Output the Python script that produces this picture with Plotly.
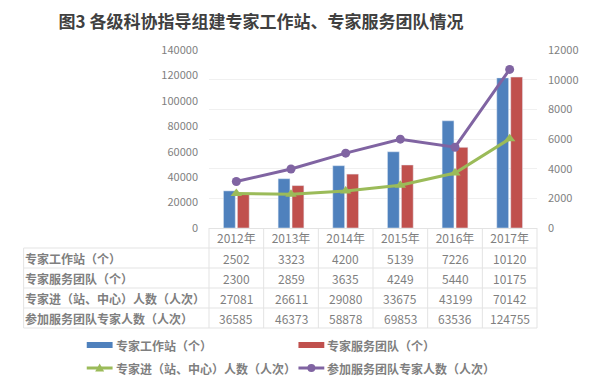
import plotly.graph_objects as go

years = ["2012年", "2013年", "2014年", "2015年", "2016年", "2017年"]
stations = [2502, 3323, 4200, 5139, 7226, 10120]
teams = [2300, 2859, 3635, 4249, 5440, 10175]
experts_in = [27081, 26611, 29080, 33675, 43199, 70142]
team_experts = [36585, 46373, 58878, 69853, 63536, 124755]

names = ["专家工作站（个）", "专家服务团队（个）",
         "专家进（站、中心）人数（人次）", "参加服务团队专家人数（人次）"]
colors = ["#4F81BD", "#C0504D", "#9BBB59", "#8064A2"]

title = "图3 各级科协指导组建专家工作站、专家服务团队情况"

FONT = "Noto Sans CJK SC"
GRAY = "#7f7f7f"
LINE = "#e3e3e3"

W, H = 591, 387
PL, PR, PT, PB = 209, 539, 50, 228   # plot area pixel bounds


def px2py(p):
    return (PB - p) / (PB - PT)


def px2px(p):
    return (p - PL) / (PR - PL)


fig = go.Figure()
fig.add_trace(go.Bar(x=years, y=stations, name=names[0], marker_color=colors[0],
                     yaxis="y", showlegend=False))
fig.add_trace(go.Bar(x=years, y=teams, name=names[1], marker_color=colors[1],
                     yaxis="y", showlegend=False))
fig.add_trace(go.Scatter(x=years, y=experts_in, name=names[2], yaxis="y2",
                         mode="lines+markers", showlegend=False,
                         line=dict(color=colors[2], width=3),
                         marker=dict(symbol="triangle-up", size=10, color=colors[2])))
fig.add_trace(go.Scatter(x=years, y=team_experts, name=names[3], yaxis="y2",
                         mode="lines+markers", showlegend=False,
                         line=dict(color=colors[3], width=3),
                         marker=dict(symbol="circle", size=9, color=colors[3])))

shapes = []
annotations = []

# table rows
rows = [stations, teams, experts_in, team_experts]
row_lines = [248, 268, 288, 308, 328]
left_x = px2px(22.5)
for i, vals in enumerate(rows):
    yc = (row_lines[i] + row_lines[i + 1]) / 2
    annotations.append(dict(xref="paper", yref="paper", x=px2px(22), y=px2py(yc),
                            text="<b>" + names[i] + "</b>", showarrow=False,
                            xanchor="left", yanchor="middle",
                            font=dict(family=FONT, size=12, color=GRAY)))
    for yr, v in zip(years, vals):
        annotations.append(dict(xref="x", yref="paper", x=yr, y=px2py(yc),
                                text=str(v), showarrow=False,
                                xanchor="center", yanchor="middle",
                                font=dict(family=FONT, size=12, color=GRAY)))

for p in row_lines:
    shapes.append(dict(type="line", xref="paper", yref="paper",
                       x0=left_x, x1=1, y0=px2py(p), y1=px2py(p),
                       line=dict(color=LINE, width=1)))
for k in range(7):
    xp = k / 6
    shapes.append(dict(type="line", xref="paper", yref="paper",
                       x0=xp, x1=xp, y0=0, y1=px2py(328),
                       line=dict(color=LINE, width=1)))
shapes.append(dict(type="line", xref="paper", yref="paper",
                   x0=left_x, x1=left_x, y0=px2py(248), y1=px2py(328),
                   line=dict(color=LINE, width=1)))

# manual legend (symbols + text)
leg = [(86, 345, 0), (299, 345, 1), (86, 368, 2), (299, 368, 3)]
for lx, ly, i in leg:
    if i < 2:
        shapes.append(dict(type="rect", xref="paper", yref="paper",
                           x0=px2px(lx), x1=px2px(lx + 26),
                           y0=px2py(ly - 3), y1=px2py(ly + 3),
                           fillcolor=colors[i], line=dict(width=0)))
    else:
        shapes.append(dict(type="line", xref="paper", yref="paper",
                           x0=px2px(lx), x1=px2px(lx + 26),
                           y0=px2py(ly), y1=px2py(ly),
                           line=dict(color=colors[i], width=3)))
        cx = lx + 13
        if i == 2:
            path = "M {} {} L {} {} L {} {} Z".format(
                px2px(cx - 4.5), px2py(ly + 3.5), px2px(cx + 4.5), px2py(ly + 3.5),
                px2px(cx), px2py(ly - 4.5))
            shapes.append(dict(type="path", xref="paper", yref="paper", path=path,
                               fillcolor=colors[i], line=dict(width=0)))
        else:
            shapes.append(dict(type="circle", xref="paper", yref="paper",
                               x0=px2px(cx - 4), x1=px2px(cx + 4),
                               y0=px2py(ly + 4), y1=px2py(ly - 4),
                               fillcolor=colors[i], line=dict(width=0)))
    annotations.append(dict(xref="paper", yref="paper", x=px2px(lx + 27), y=px2py(ly),
                            text="<b>" + names[i] + "</b>", showarrow=False,
                            xanchor="left", yanchor="middle",
                            font=dict(family=FONT, size=12, color=GRAY)))

fig.update_layout(
    width=W, height=H,
    margin=dict(l=PL, r=W - PR, t=PT, b=H - PB, pad=0),
    paper_bgcolor="white", plot_bgcolor="white",
    title=dict(text="<b>" + title + "</b>", x=261 / W, xanchor="center",
               y=1 - 22 / H, yanchor="middle",
               font=dict(family=FONT, size=17, color="#404040")),
    barmode="group", bargap=0.49, bargroupgap=0.15,
    font=dict(family=FONT, size=11, color=GRAY),
    xaxis=dict(type="category", showgrid=False, showline=True, linecolor=LINE,
               ticks="", tickfont=dict(family=FONT, size=12, color=GRAY)),
    yaxis=dict(side="right", range=[0, 12000], dtick=2000, showgrid=True,
               gridcolor="#f0f0f0", zeroline=False, ticks="", tickformat="d",
               ticklabelstandoff=10,
               tickfont=dict(family=FONT, size=11, color=GRAY)),
    yaxis2=dict(side="left", overlaying="y", range=[0, 140000], dtick=20000,
                showgrid=False, zeroline=False, ticks="", tickformat="d",
                ticklabelstandoff=10,
                tickfont=dict(family=FONT, size=11, color=GRAY)),
    showlegend=False,
    shapes=shapes, annotations=annotations,
)

fig.write_html("out.html",
               config={"displayModeBar": False},
               post_script="document.body.style.margin='0';"
                           "document.body.style.overflow='hidden';")
